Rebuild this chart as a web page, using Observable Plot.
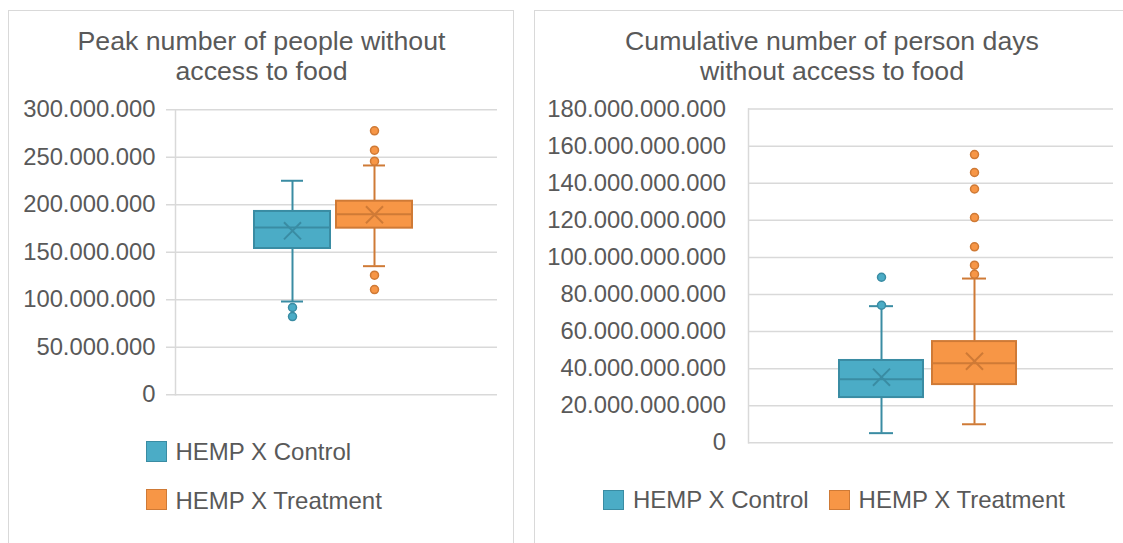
<!DOCTYPE html>
<html><head><meta charset="utf-8">
<script src="https://cdn.jsdelivr.net/npm/d3@7"></script>
<script src="https://cdn.jsdelivr.net/npm/@observablehq/plot@0.6"></script>
<style>
html,body{margin:0;padding:0;background:#fff;}
body{width:1123px;height:543px;overflow:hidden;position:relative;font-family:"Liberation Sans",Arial,sans-serif;color:#595959;}
.panel{position:absolute;border:1.5px solid #d9d9d9;box-sizing:border-box;}
.title{position:absolute;font-size:26.7px;line-height:30px;text-align:center;white-space:nowrap;}
.chart{position:absolute;}
.leg{position:absolute;font-size:24px;line-height:24px;white-space:nowrap;}
.sw{position:absolute;width:20.5px;height:20.5px;box-sizing:border-box;border:1.5px solid;}
</style></head><body>
<div class="panel" style="left:8px;top:10px;width:506px;height:560px"></div>
<div class="panel" style="left:534px;top:10px;width:640px;height:560px"></div>
<div class="title" style="left:11.5px;top:26px;width:500px">Peak number of people without<br>access to food</div>
<div class="title" style="left:532px;top:26px;width:600px">Cumulative number of person days<br>without access to food</div>
<div class="chart" id="c1" style="left:8px;top:95px"></div>
<div class="chart" id="c2" style="left:534px;top:95px"></div>
<div id="leg1"></div>
<div id="leg2"></div>
<script>
// ---- data ----
const seriesNames = ["HEMP X Control", "HEMP X Treatment"];

// Chart 1: Peak number of people without access to food
const peakLow    = [98.2e6, 135.4e6];
const peakQ1     = [154.0e6, 175.4e6];
const peakMedian = [176.1e6, 190.1e6];
const peakQ3     = [193.0e6, 203.8e6];
const peakHigh   = [225.3e6, 241.4e6];
const peakMean   = [172.6e6, 189.5e6];
const peakOutliersControl   = [91.9e6, 82.4e6];
const peakOutliersTreatment = [277.9e6, 257.5e6, 245.9e6, 125.9e6, 110.8e6];
const peakTicks = [0, 50e6, 100e6, 150e6, 200e6, 250e6, 300e6];
const peakTickLabels = ["0", "50.000.000", "100.000.000", "150.000.000", "200.000.000", "250.000.000", "300.000.000"];

// Chart 2: Cumulative number of person days without access to food
const cumLow    = [5.2e9, 10.0e9];
const cumQ1     = [24.4e9, 31.4e9];
const cumMedian = [34.3e9, 42.9e9];
const cumQ3     = [44.4e9, 54.6e9];
const cumHigh   = [73.7e9, 88.6e9];
const cumMean   = [35.4e9, 44.0e9];
const cumOutliersControl   = [74.2e9, 89.3e9];
const cumOutliersTreatment = [155.5e9, 145.8e9, 136.9e9, 121.5e9, 105.7e9, 95.8e9, 90.9e9];
const cumTicks = [0, 20e9, 40e9, 60e9, 80e9, 100e9, 120e9, 140e9, 160e9, 180e9];
const cumTickLabels = ["0", "20.000.000.000", "40.000.000.000", "60.000.000.000", "80.000.000.000", "100.000.000.000", "120.000.000.000", "140.000.000.000", "160.000.000.000", "180.000.000.000"];

// ---- styles ----
const fillColors = ["#4bacc6", "#f79646"];
const strokeColors = ["#3a8ca3", "#cf7a36"];
const gridColor = "#d9d9d9";
const textColor = "#595959";

function buildRows(low, q1, med, q3, high, mean) {
  return seriesNames.map((s, i) => ({series: s, low: low[i], q1: q1[i], median: med[i], q3: q3[i], high: high[i], mean: mean[i], fill: fillColors[i], stroke: strokeColors[i]}));
}
function buildOutliers(lists) {
  const out = [];
  lists.forEach((list, i) => list.forEach(v => out.push({series: seriesNames[i], value: v, fill: fillColors[i], stroke: strokeColors[i]})));
  return out;
}

function chart(cfg) {
  const rows = buildRows(...cfg.stats);
  const outs = buildOutliers(cfg.outliers);
  return Plot.plot({
    width: cfg.width, height: cfg.height,
    marginLeft: cfg.ml, marginRight: cfg.mr, marginTop: cfg.mt, marginBottom: cfg.mb,
    x: {type: "band", domain: seriesNames, range: cfg.xRange, padding: cfg.pad, axis: null},
    y: {domain: cfg.yDomain},
    color: {type: "identity"},
    style: {fontFamily: '"Liberation Sans", Arial, sans-serif', fontSize: "23.8px", color: textColor, background: "transparent", overflow: "visible"},
    marks: [
      Plot.ruleY(cfg.ticks, {stroke: gridColor, strokeWidth: 1.5, insetLeft: -cfg.tickOut}),
      Plot.frame({anchor: "left", stroke: gridColor, strokeWidth: 1.5}),
      Plot.axisY({ticks: cfg.ticks, tickFormat: d => cfg.labels[cfg.ticks.indexOf(d)], tickSize: 0, tickPadding: cfg.tickPad, label: null}),
      Plot.ruleX(rows, {x: "series", y1: "low", y2: "q1", stroke: "stroke", strokeWidth: 2}),
      Plot.ruleX(rows, {x: "series", y1: "q3", y2: "high", stroke: "stroke", strokeWidth: 2}),
      Plot.tickY(rows, {x: "series", y: "low", stroke: "stroke", strokeWidth: 2, insetLeft: cfg.capInset, insetRight: cfg.capInset}),
      Plot.tickY(rows, {x: "series", y: "high", stroke: "stroke", strokeWidth: 2, insetLeft: cfg.capInset, insetRight: cfg.capInset}),
      Plot.barY(rows, {x: "series", y1: "q1", y2: "q3", fill: "fill", stroke: "stroke", strokeWidth: 2}),
      Plot.tickY(rows, {x: "series", y: "median", stroke: "stroke", strokeWidth: 2}),
      Plot.dot(rows, {x: "series", y: "mean", symbol: "times", r: 7.8, stroke: "stroke", strokeWidth: 2}),
      Plot.dot(outs, {x: "series", y: "value", r: 4, fill: "fill", stroke: "stroke", strokeWidth: 1.5})
    ]
  });
}

document.getElementById("c1").append(chart({
  width: 506, height: 315, ml: 167, mr: 17, mt: 14.3, mb: 15.7,
  xRange: [239, 410.5], pad: 0.0788, capInset: 27,
  yDomain: [0, 300e6], ticks: peakTicks, labels: peakTickLabels, tickOut: 9, tickPad: 20,
  stats: [peakLow, peakQ1, peakMedian, peakQ3, peakHigh, peakMean],
  outliers: [peakOutliersControl, peakOutliersTreatment]
}));
document.getElementById("c2").append(chart({
  width: 589, height: 360, ml: 214, mr: 10, mt: 13.6, mb: 12.7,
  xRange: [295.2, 491.6], pad: 0.0938, capInset: 30,
  yDomain: [0, 180e9], ticks: cumTicks, labels: cumTickLabels, tickOut: 0, tickPad: 22.5,
  stats: [cumLow, cumQ1, cumMedian, cumQ3, cumHigh, cumMean],
  outliers: [cumOutliersControl, cumOutliersTreatment]
}));

// legends
function legendItem(parent, i, swX, swY, txX, txY) {
  const sw = document.createElement("div");
  sw.className = "sw";
  sw.style.left = swX + "px"; sw.style.top = swY + "px";
  sw.style.background = fillColors[i]; sw.style.borderColor = strokeColors[i];
  const tx = document.createElement("div");
  tx.className = "leg";
  tx.style.left = txX + "px"; tx.style.top = txY + "px";
  tx.textContent = seriesNames[i];
  parent.append(sw, tx);
}
const l1 = document.getElementById("leg1");
legendItem(l1, 0, 146, 441, 175.5, 440.3);
legendItem(l1, 1, 146, 489.3, 175.5, 488.6);
const l2 = document.getElementById("leg2");
legendItem(l2, 0, 603, 489.5, 633, 487.9);
legendItem(l2, 1, 829, 489.5, 858.6, 487.9);
</script>
</body></html>
